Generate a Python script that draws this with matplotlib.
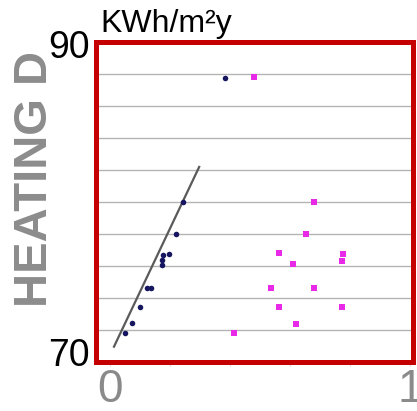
import matplotlib.pyplot as plt
import matplotlib.transforms as mtransforms

# navy series (left cluster)
navy_x = [0.05, 0.074, 0.10, 0.124, 0.136, 0.172, 0.172, 0.178, 0.198, 0.22, 0.244, 0.383]
navy_y = [71.79, 72.42, 73.46, 74.61, 74.61, 76.06, 76.38, 76.69, 76.75, 78.0, 80.02, 87.77]

# magenta series (right cluster)
pink_x = [0.48, 0.681, 0.653, 0.564, 0.609, 0.778, 0.772, 0.536, 0.681, 0.564, 0.772, 0.619, 0.413]
pink_y = [87.79, 80.02, 77.98, 76.79, 76.11, 76.73, 76.31, 74.61, 74.64, 73.46, 73.46, 72.38, 71.79]

# trend line end points
trend_x = [0.013, 0.297]
trend_y = [70.96, 82.19]

grid_levels = [72, 74, 76, 78, 80, 82, 84, 86, 88]
x_ticks = [0, 0.2, 0.4, 0.6, 0.8, 1]
x_labels = ['0', '', '', '', '', '1']

plt.rcParams['font.family'] = ['Liberation Sans', 'DejaVu Sans']

fig = plt.figure(figsize=(4.17, 4.11), dpi=100)
ax = fig.add_axes([96 / 417, 1 - 362 / 411, 317 / 417, 320 / 411])

ax.set_xlim(-0.047, 1.01)
ax.set_ylim(70, 90)

ax.set_yticks(grid_levels)
ax.yaxis.grid(True, color='#b4b4b4', linewidth=1.0)
ax.tick_params(axis='y', length=0, labelleft=False)
ax.set_axisbelow(True)

ax.set_xticks(x_ticks)
ax.set_xticklabels(x_labels)
ax.tick_params(axis='x', length=3, color='#e6d0d0', labelsize=33,
               labelcolor='#8a8a8a', pad=1)

for s in ax.spines.values():
    s.set_color('#c40000')
    s.set_linewidth(3.6)

ax.plot(trend_x, trend_y, color='#5a5a5a', linewidth=1.6, zorder=2)
ax.scatter(navy_x, navy_y, s=16, color='#161660', zorder=3, linewidths=0)
ax.scatter(pink_x, pink_y, s=24, marker='s', color='#e82ae8', zorder=3, linewidths=0)

trans = mtransforms.blended_transform_factory(ax.transAxes, ax.transData)
ax.text(-0.019, 89.6, '90', transform=trans, ha='right', va='center',
        fontsize=27, color='black')
ax.text(-0.019, 70.4, '70', transform=trans, ha='right', va='center',
        fontsize=27, color='black')

fig.text(100 / 417, 1 - 32 / 411, 'KWh/m²y', ha='left', va='baseline',
         fontsize=23, color='black')
fig.text(35 / 417, 1 - 179 / 411, 'HEATING D', rotation=90, ha='center',
         va='center', fontsize=34, fontweight='bold', color='#8c8c8c')

fig.savefig('out.png', dpi=100)
